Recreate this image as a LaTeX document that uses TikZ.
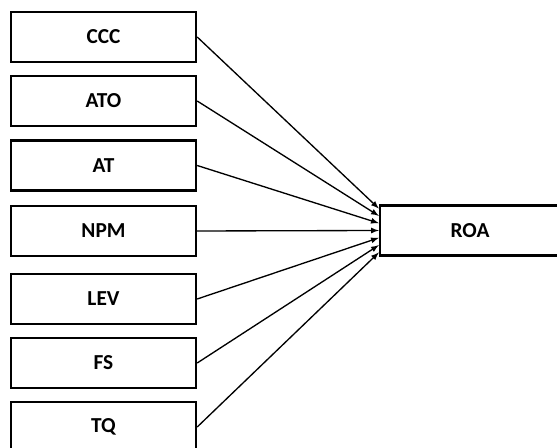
\documentclass[tikz,border=0pt]{standalone}
\usepackage{fontspec}
\setmainfont{Carlito}
\usetikzlibrary{arrows}
\tikzset{varbox/.style={draw, line width=1.8pt, minimum width=138.75pt, minimum height=37.5pt, font=\fontsize{16}{19}\selectfont\bfseries}}

\begin{document}
\begin{tikzpicture}[x=0.75pt, y=-0.75pt]
\useasboundingbox (0,0) rectangle (557,448);
\node[varbox] (ccc) at (103.5,37) {CCC};
\node[varbox] (ato) at (103.5,101) {ATO};
\node[varbox] (at) at (103.5,165.5) {AT};
\node[varbox] (npm) at (103.5,231) {NPM};
\node[varbox] (lev) at (103.5,299) {LEV};
\node[varbox] (fs) at (103.5,363) {FS};
\node[varbox] (tq) at (103.5,427) {TQ};
\node[varbox, minimum width=135pt] (roa) at (470,230.5) {ROA};
\foreach \src/\k in {ccc/3,ato/2,at/1,npm/0,lev/-1,fs/-2,tq/-3}
\draw[-latex, line width=1pt] (\src.east) -- ([yshift=\k*5.5pt]roa.west);
\end{tikzpicture}
\end{document}
